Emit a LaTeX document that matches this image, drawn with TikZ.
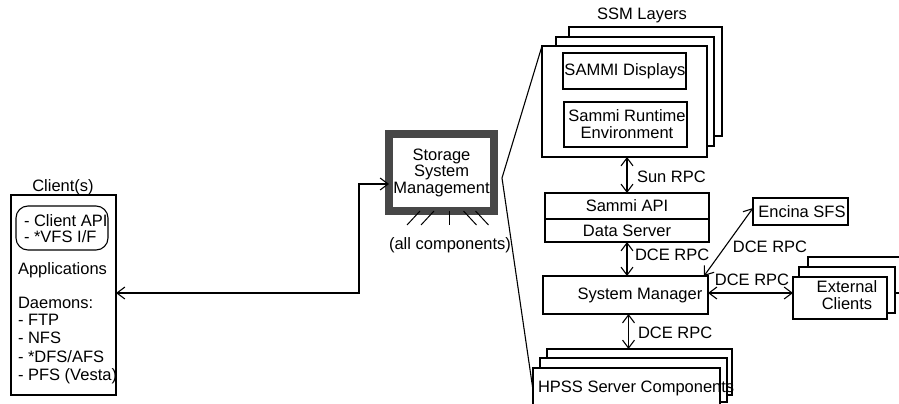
\documentclass[tikz,border=0pt]{standalone}
\usepackage{fontspec}
\setmainfont{Liberation Sans}
\usetikzlibrary{arrows.meta}
\begin{document}
\begin{tikzpicture}[x=1pt,y=-1pt,line width=1.1pt,
  every node/.style={font=\fontsize{16.5}{17}\selectfont, inner sep=0pt, outer sep=0pt},
  box/.style={draw, fill=white, rectangle},
  lbl/.style={anchor=west},
  arr/.style={{Straight Barb[length=8pt,width=12pt]}-{Straight Barb[length=8pt,width=12pt]}},
  ray/.style={line width=1pt}]
\useasboundingbox (0,0) rectangle (899,404);
\clip (0,0) rectangle (899,404);

% Client(s)
\node[box, minimum width=105, minimum height=200] (client) at (63.5,295) {};
\node (clientlbl) at (63,187) {Client(s)};
\node[box, rounded corners=12pt, minimum width=92, minimum height=44] (api) at (62,228) {};
\node[lbl] (capi) at (24,221) {- Client API};
\node[lbl] (cvfs) at (24,237) {- *VFS I/F};
\node[lbl] (capp) at (18,270) {Applications};
\node[lbl] (cdae) at (18,303) {Daemons:};
\node[lbl] (cftp) at (18,320) {- FTP};
\node[lbl] (cnfs) at (18,338) {- NFS};
\node[lbl] (cdfs) at (18,357) {- *DFS/AFS};
\node[lbl] (cpfs) at (18,376) {- PFS (Vesta)};

% Storage System Management
\node[draw=black!72, line width=8pt, fill=white, minimum width=105, minimum height=77, align=center,
      font=\fontsize{16.5}{16.5}\selectfont] (ssm) at (441.5,172.5) {Storage\\System\\Management};
\draw[ray] ([xshift=-21.5pt]ssm.south) -- ++(-13,14);
\draw[ray] ([xshift=-7.5pt]ssm.south) -- ++(-13,14);
\draw[ray] ([xshift=7.5pt]ssm.south) -- ++(0,14);
\draw[ray] ([xshift=22pt]ssm.south) -- ++(13,14);
\draw[ray] ([xshift=34pt]ssm.south) -- ++(13,14);
\node (allc) at (450,245) {(all components)};

\coordinate (bend) at (359,184);
\draw[arr] ([yshift=2pt]client.east) -| (bend) -- ([yshift=-11.5pt]ssm.west);

% SSM layers stack
\node[box, minimum width=153, minimum height=109] (ssmback) at (645.5,81.5) {};
\node[box, minimum width=158, minimum height=109] (ssmmid) at (635,91.5) {};
\node[box, minimum width=165, minimum height=111] (ssmfront) at (624.5,101.5) {};
\node (ssmlbl) at (642,15) {SSM Layers};
\node[box, minimum width=123, minimum height=36] (disp) at (624.5,71) {};
\node (displbl) at (625,71) {SAMMI Displays};
\node[box, minimum width=123, minimum height=45] (rte) at (625.5,124.5) {};
\node[align=center] (rtelbl) at (627,124.5) {Sammi Runtime\\Environment};

% Sammi API / Data Server
\node[box, minimum width=164, minimum height=26] (sapi) at (627,206) {Sammi API};
\node[box, minimum width=164, minimum height=23] (ds) at (627,230.5) {Data Server};

% System Manager
\node[box, minimum width=165, minimum height=38] (sm) at (625.5,295) {};
\node (smlbl) at (640,295) {System Manager};

% HPSS stack
\node[box, minimum width=185, minimum height=46] (hb) at (639.5,372) {};
\node[box, minimum width=187, minimum height=44] (hm) at (633.5,380) {};
\node[box, minimum width=187, minimum height=46] (hf) at (626.5,391) {};
\node[lbl] (hlbl) at (538,388) {HPSS Server Components};

% Encina SFS
\node[box, minimum width=95, minimum height=27] (enc) at (800.5,211.5) {};
\node (enclbl) at (802,211.5) {Encina SFS};

% External clients stack
\node[box, minimum width=96, minimum height=36] (eb) at (856,275) {};
\node[box, minimum width=96, minimum height=46] (em) at (847,290) {};
\node[box, minimum width=94, minimum height=42] (ef) at (840,298) {};
\node[align=center] (eflbl) at (847,295) {External\\Clients};

% big wedge lines
\coordinate (apex) at (502,178);
\draw (ssmfront.north west) -- (apex) -- ([yshift=1pt]hf.west);

% RPC arrows
\draw[arr] (sapi.north) -- (sapi.north |- ssmfront.south);
\node[lbl] (sunrpc) at (637,177) {Sun RPC};
\draw[arr] (ds.south) -- (ds.south |- sm.north);
\node[lbl] (dce1) at (635,255) {DCE RPC};
\draw[arr] ([xshift=3pt]sm.south) -- ([xshift=3pt]sm.south |- hb.north);
\node[lbl] (dce2) at (638,333) {DCE RPC};
\draw[arr] ([xshift=-4pt]sm.north east) -- ([yshift=3.5pt]enc.west);
\node (dce3) at (770,247) {DCE RPC};
\draw[arr] ([yshift=2pt]sm.east) -- ([yshift=2pt]sm.east -| ef.west);
\node (dce4) at (752,280) {DCE RPC};
\end{tikzpicture}
\end{document}
